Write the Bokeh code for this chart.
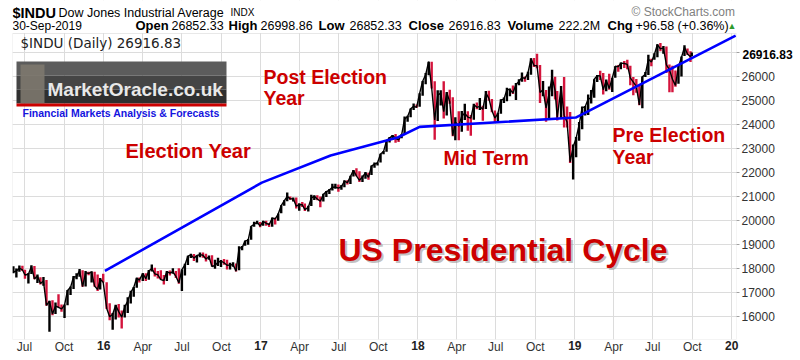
import pandas as pd
from bokeh.plotting import figure
from bokeh.models import Range1d, FixedTicker, Label, BoxAnnotation, ColumnDataSource, LinearAxis
from bokeh.embed import file_html
from bokeh.resources import INLINE

# ---------------- data (weekly) ----------------
dates = [
    "2015-06-05","2015-06-12","2015-06-19","2015-06-26","2015-07-02","2015-07-10","2015-07-17","2015-07-24","2015-07-31",
    "2015-08-07","2015-08-14","2015-08-21","2015-08-28","2015-09-04","2015-09-11","2015-09-18","2015-09-25","2015-10-02",
    "2015-10-09","2015-10-16","2015-10-23","2015-10-30","2015-11-06","2015-11-13","2015-11-20","2015-11-27","2015-12-04",
    "2015-12-11","2015-12-18","2015-12-24","2015-12-31",
    "2016-01-08","2016-01-15","2016-01-22","2016-01-29","2016-02-05","2016-02-12","2016-02-19","2016-02-26","2016-03-04",
    "2016-03-11","2016-03-18","2016-03-24","2016-04-01","2016-04-08","2016-04-15","2016-04-22","2016-04-29","2016-05-06",
    "2016-05-13","2016-05-20","2016-05-27","2016-06-03","2016-06-10","2016-06-17","2016-06-24","2016-07-01","2016-07-08",
    "2016-07-15","2016-07-22","2016-07-29","2016-08-05","2016-08-12","2016-08-19","2016-08-26","2016-09-02","2016-09-09",
    "2016-09-16","2016-09-23","2016-09-30","2016-10-07","2016-10-14","2016-10-21","2016-10-28","2016-11-04","2016-11-11",
    "2016-11-18","2016-11-25","2016-12-02","2016-12-09","2016-12-16","2016-12-23","2016-12-30",
    "2017-01-06","2017-01-13","2017-01-20","2017-01-27","2017-02-03","2017-02-10","2017-02-17","2017-02-24","2017-03-03",
    "2017-03-10","2017-03-17","2017-03-24","2017-03-31","2017-04-07","2017-04-13","2017-04-21","2017-04-28","2017-05-05",
    "2017-05-12","2017-05-19","2017-05-26","2017-06-02","2017-06-09","2017-06-16","2017-06-23","2017-06-30","2017-07-07",
    "2017-07-14","2017-07-21","2017-07-28","2017-08-04","2017-08-11","2017-08-18","2017-08-25","2017-09-01","2017-09-08",
    "2017-09-15","2017-09-22","2017-09-29","2017-10-06","2017-10-13","2017-10-20","2017-10-27","2017-11-03","2017-11-10",
    "2017-11-17","2017-11-24","2017-12-01","2017-12-08","2017-12-15","2017-12-22","2017-12-29",
    "2018-01-05","2018-01-12","2018-01-19","2018-01-26","2018-02-02","2018-02-09","2018-02-16","2018-02-23","2018-03-02",
    "2018-03-09","2018-03-16","2018-03-23","2018-03-29","2018-04-06","2018-04-13","2018-04-20","2018-04-27","2018-05-04",
    "2018-05-11","2018-05-18","2018-05-25","2018-06-01","2018-06-08","2018-06-15","2018-06-22","2018-06-29","2018-07-06",
    "2018-07-13","2018-07-20","2018-07-27","2018-08-03","2018-08-10","2018-08-17","2018-08-24","2018-08-31","2018-09-07",
    "2018-09-14","2018-09-21","2018-09-28","2018-10-05","2018-10-12","2018-10-19","2018-10-26","2018-11-02","2018-11-09",
    "2018-11-16","2018-11-21","2018-11-30","2018-12-07","2018-12-14","2018-12-21","2018-12-28",
    "2019-01-04","2019-01-11","2019-01-18","2019-01-25","2019-02-01","2019-02-08","2019-02-15","2019-02-22","2019-03-01",
    "2019-03-08","2019-03-15","2019-03-22","2019-03-29","2019-04-05","2019-04-12","2019-04-18","2019-04-26","2019-05-03",
    "2019-05-10","2019-05-17","2019-05-24","2019-05-31","2019-06-07","2019-06-14","2019-06-21","2019-06-28","2019-07-05",
    "2019-07-12","2019-07-19","2019-07-26","2019-08-02","2019-08-09","2019-08-16","2019-08-23","2019-08-30","2019-09-06",
    "2019-09-13","2019-09-20","2019-09-27","2019-09-30",
]

close = [
    17849,17899,18015,17947,17730,17760,18086,17568,17690,17373,17477,16460,16643,16102,16433,16385,16315,16472,17084,17215,
    17646,17663,17910,17245,17823,17798,17848,17265,17128,17552,17425,
    16347,15988,16094,16466,16205,15974,16392,16640,17006,17213,17602,17516,17793,17577,17898,18004,17774,17740,17535,17500,
    17873,17807,17865,17675,17400,17949,18147,18517,18571,18432,18543,18577,18553,18395,18492,18085,18124,18262,18308,18240,
    18138,18146,18161,17888,18848,18868,19153,19171,19757,19843,19934,19763,
    19964,19886,19827,20094,20071,20269,20624,20822,21005,20902,20914,20596,20663,20656,20453,20547,20940,21006,20896,20804,
    21080,21206,21271,21384,21394,21349,21414,21637,21580,21830,22092,21858,21674,21813,21988,21797,22268,22349,22405,22773,
    22871,23329,23434,23539,23422,23358,23558,24231,24329,24651,24754,24719,
    25295,25803,26072,26617,25521,24191,25219,25310,24538,25336,24946,23533,24103,23933,24360,24463,24311,24263,24831,24715,
    24753,24635,25317,25090,24581,24271,24456,25019,25058,25451,25463,25313,25669,25790,25965,25917,26154,26744,26458,26447,
    25340,25444,24688,25271,25989,25413,24286,25538,24389,24100,22445,23062,
    23433,23996,24706,24737,25064,25106,25883,26031,26026,25450,25849,25502,25929,26425,26412,26559,26543,26505,25942,25764,
    25586,24815,25984,26090,26719,26600,26922,27332,27154,27192,26485,26287,25886,25629,26403,26797,27220,26935,26820,26917,
]

high = [
    18090,18000,18130,18120,17950,17810,18140,18100,17750,17640,17650,17520,16660,16680,16580,16930,16500,16500,17100,17250,
    17690,17800,17980,17930,17900,17860,17890,17870,17750,17600,17780,
    17430,16550,16150,16490,16520,16250,16490,16800,17070,17230,17620,17630,17800,17800,17940,18170,18030,17900,17930,17730,
    17900,17920,18010,17900,18010,17960,18200,18530,18620,18600,18550,18670,18670,18610,18540,18550,18360,18450,18350,18400,
    18360,18240,18260,18210,18930,18940,19160,19230,19760,19950,19990,19940,
    19990,19990,19900,20130,20120,20290,20640,20840,21170,21000,20960,20960,20720,20770,20710,20620,21070,21050,21050,21000,
    21110,21230,21310,21530,21530,21500,21480,21680,21680,21860,22100,22180,22050,21880,22020,21990,22290,22420,22420,22780,
    22900,23330,23480,23560,23600,23460,23600,24330,24360,24670,24880,24830,
    25300,25810,26150,26620,26610,25800,25430,25430,25800,25350,25450,25140,24300,24550,24560,24860,24550,24400,24870,24920,
    25100,24780,25400,25410,25060,24580,24490,25050,25130,25530,25500,25630,25730,25890,26170,26000,26200,26760,26770,26950,
    26480,25810,25440,25580,26280,25990,25400,25600,25980,24750,24520,23170,
    23480,24100,24750,24770,25250,25440,25890,26060,26240,26150,25880,26110,25950,26430,26480,26580,26650,26700,26450,25980,
    25900,25650,26000,26190,26910,26740,26970,27340,27400,27270,27250,26500,26450,26250,26480,26830,27300,27170,27050,27000,
]

low = [
    17800,17630,17860,17900,17570,17380,17770,17550,17400,17330,17280,16450,15370,16050,16100,16380,16200,15940,16470,16900,
    17150,17550,17660,17240,17250,17720,17420,17240,17060,17130,17420,
    16310,15840,15450,15880,15960,15500,15960,16150,16540,16820,17200,17420,17480,17480,17530,17880,17670,17580,17530,17330,
    17480,17710,17780,17600,17360,17060,17710,18150,18440,18310,18250,18470,18450,18290,18370,18080,17990,18100,18060,18160,
    17960,17960,18070,17880,17930,18760,18950,18990,19200,19740,19840,19720,
    19780,19780,19730,19740,19830,19990,20300,20620,20800,20850,20790,20500,20410,20560,20400,20380,20600,20850,20840,20550,
    20790,20980,21100,21250,21320,21200,21280,21390,21500,21520,21830,21840,21600,21600,21740,21700,21900,22200,22290,22420,
    22760,22860,23250,23370,23240,23270,23430,23560,24110,24300,24600,24700,
    24740,25200,25680,26050,25500,23360,24150,24790,24250,24380,24870,23510,23340,23340,23700,24190,23740,23530,24200,24640,
    24600,24160,24650,24990,24510,24080,24120,24450,24900,24970,25180,25270,25020,25640,25780,25780,25850,26070,26400,26340,
    24900,25180,24120,24270,25180,25040,24170,24260,23880,23880,22400,21710,
    22640,23320,23800,24380,24400,24880,25120,25770,25850,25250,25390,25450,25350,25950,26200,26300,26350,26300,25640,25220,
    25320,24800,24680,25980,26060,26430,26700,26800,27050,26950,26150,25340,25340,25570,25700,26000,26850,26900,26600,26850,
]

last_close = 26916.83

# presidential-cycle trend line (blue)
cycle_dates = ["2016-01-04", "2017-01-03", "2017-06-12", "2017-11-15", "2018-01-05", "2019-01-03", "2020-01-10"]
cycle_values = [17900, 21580, 22710, 23460, 23900, 24290, 27700]

# axis ticks / labels
month_tick_dates = ["2015-07-01", "2015-10-01", "2016-01-01", "2016-04-01", "2016-07-01", "2016-10-01",
                    "2017-01-01", "2017-04-01", "2017-07-01", "2017-10-01", "2018-01-01", "2018-04-01",
                    "2018-07-01", "2018-10-01", "2019-01-01", "2019-04-01", "2019-07-01", "2019-10-01", "2020-01-01"]
month_tick_labels = ["Jul", "Oct", "", "Apr", "Jul", "Oct", "", "Apr", "Jul", "Oct", "", "Apr",
                     "Jul", "Oct", "", "Apr", "Jul", "Oct", ""]
year_tick_dates = ["2016-01-01", "2017-01-01", "2018-01-01", "2019-01-01", "2020-01-01"]
year_tick_labels = ["16", "17", "18", "19", "20"]
y_ticks = list(range(15000, 28000, 1000))

assert len(dates) == len(close) == len(high) == len(low)


def ms(d):
    return pd.Timestamp(d).value / 1e6


x = [ms(d) for d in dates]
colors = ["black"] + ["#d4143c" if close[i] < close[i - 1] else "black" for i in range(1, len(close))]
src = ColumnDataSource(dict(x=x, hi=high, lo=low, c=close, color=colors))

FL, FT, FR, FB = 12, 33, 736, 339   # page position of the drawn plot area

p = figure(width=800, height=360,
           x_range=Range1d(ms("2015-06-03"), ms("2020-01-12")),
           y_range=Range1d(15042, 29167),
           y_axis_location="right",
           output_backend="svg", toolbar_location=None,
           min_border_left=FL, min_border_right=800 - FR, min_border_top=0, min_border_bottom=360 - FB)
p.background_fill_color = "white"
p.border_fill_color = "white"
p.outline_line_color = None

# grids
p.xgrid.ticker = FixedTicker(ticks=[ms(d) for d in month_tick_dates])
p.ygrid.ticker = FixedTicker(ticks=y_ticks)
p.xgrid.grid_line_color = "#dcdcdc"
p.ygrid.grid_line_color = "#dcdcdc"

# x axis (months)
p.xaxis.ticker = FixedTicker(ticks=[ms(d) for d in month_tick_dates])
p.xaxis.major_label_overrides = {ms(d): t for d, t in zip(month_tick_dates, month_tick_labels)}
p.xaxis.major_tick_out = 0
p.xaxis.major_tick_in = 0
p.xaxis.minor_tick_line_color = None
p.xaxis.axis_line_color = None
p.xaxis.major_label_standoff = 0
p.xaxis.major_label_text_font = "Liberation Sans"
p.xaxis.major_label_text_font_size = "12px"
p.xaxis.major_label_text_color = "#333333"

# x axis (years, bold) on the same row
yr_axis = LinearAxis(ticker=FixedTicker(ticks=[ms(d) for d in year_tick_dates]),
                     major_label_overrides={ms(d): t for d, t in zip(year_tick_dates, year_tick_labels)},
                     axis_line_color=None, major_tick_line_color=None, minor_tick_line_color=None,
                     major_tick_out=0, major_tick_in=0, major_label_standoff=-16,
                     major_label_text_font="Liberation Sans", major_label_text_font_size="12px",
                     major_label_text_font_style="bold", major_label_text_color="#222222")
p.add_layout(yr_axis, "below")

# y axis (right)
p.yaxis.ticker = FixedTicker(ticks=y_ticks)
p.yaxis.major_label_overrides = {15000: "", 27000: ""}
p.yaxis.axis_line_color = None
p.yaxis.major_tick_line_color = "#a0a0a0"
p.yaxis.major_tick_out = 3
p.yaxis.major_tick_in = 0
p.yaxis.minor_tick_line_color = None
p.yaxis.major_label_standoff = 2
p.yaxis.major_label_text_font = "Liberation Sans"
p.yaxis.major_label_text_font_size = "12px"
p.yaxis.major_label_text_color = "#333333"

# last-price tag on the right axis
tag_axis = LinearAxis(ticker=FixedTicker(ticks=[last_close]),
                      major_label_overrides={last_close: "26916.83"},
                      axis_line_color=None, major_tick_line_color=None, minor_tick_line_color=None,
                      major_tick_out=0, major_tick_in=0, major_label_standoff=-35,
                      major_label_text_font="Liberation Sans", major_label_text_font_size="12px",
                      major_label_text_font_style="bold", major_label_text_color="black")
p.add_layout(tag_axis, "right")

# price bars + close line
p.segment(x0="x", y0="lo", x1="x", y1="hi", color="color", line_width=2.4, source=src)
p.line("x", "c", color="black", line_width=1.4, source=src)

# presidential cycle line
p.line([ms(d) for d in cycle_dates], cycle_values, color="#0000ff", line_width=2.6)

# ---------------- annotations ----------------


def lab(text, px, py, size, color="black", bold=False, font="Liberation Sans", align="left", **kw):
    p.add_layout(Label(x=px - FL, y=FB - py, x_units="screen", y_units="screen", text=text,
                       text_font=font, text_font_size=f"{size}px", text_color=color,
                       text_font_style="bold" if bold else "normal",
                       text_align=align, text_baseline="middle", **kw))


def box(x0, x1, y0, y1, color, alpha=1.0, line=None):
    p.add_layout(BoxAnnotation(left=x0 - FL, right=x1 - FL, top=FB - y0, bottom=FB - y1,
                               left_units="screen", right_units="screen",
                               top_units="screen", bottom_units="screen",
                               fill_color=color, fill_alpha=alpha,
                               line_color=line, line_width=1))


# white header band above the plotting area + plot outline
box(FL, FR, 0, FT, "white")
box(FL, FR, FT, FB, None, 0.0, line="#b4b4b4")

# header
lab("$INDU", 12, 12, 14.5, bold=True)
lab("Dow Jones Industrial Average", 58, 12, 12.5)
lab("INDX", 230, 12, 10)
lab("\u00a9 StockCharts.com", 631, 11, 12, color="#808080")
lab("30-Sep-2019", 12, 25, 12)
for t, px, b in [("Open", 135, True), ("26852.33", 171, False), ("High", 228, True), ("26998.86", 260, False),
                 ("Low", 318, True), ("26852.33", 349, False), ("Close", 408, True), ("26916.83", 448, False),
                 ("Volume", 507, True), ("222.2M", 558, False), ("Chg", 607, True), ("+96.58 (+0.36%)", 635, False)]:
    lab(t, px, 25, 13 if b else 12.5, bold=b)
lab("\u25b2", 727, 25, 9, color="#2e9a2e")

lab("$INDU (Daily) 26916.83", 20, 42, 13.5, font="DejaVu Sans", color="#222222")

# logo
box(16, 226, 61, 75, "#5c5c5c")
box(16, 226, 75, 89, "#454545")
box(16, 226, 89, 103, "#2f2f2f")
box(20, 44, 64, 103, "#7d786e", 0.9)
box(16, 226, 103, 106, "#cc0000")
lab("MarketOracle.co.uk", 47, 89, 19, color="#e8e8e8", bold=True)
lab("Financial Markets Analysis & Forecasts", 22, 112, 10.5, color="#1414e0", bold=True)

# red cycle texts
RED = "#cc0000"
lab("Election Year", 125, 150, 20, color=RED, bold=True)
lab("Post Election", 263, 76, 19.5, color=RED, bold=True)
lab("Year", 263, 97, 19.5, color=RED, bold=True)
lab("Mid Term", 443, 157, 19.5, color=RED, bold=True)
lab("Pre Election", 612, 134, 19.5, color=RED, bold=True)
lab("Year", 612, 156, 19.5, color=RED, bold=True)
lab("US Presidential Cycle", 340, 251, 32, color="#999999", bold=True, text_alpha=0.6)
lab("US Presidential Cycle", 338, 249, 32, color=RED, bold=True)

open("out.html", "w").write(file_html(p, INLINE))
